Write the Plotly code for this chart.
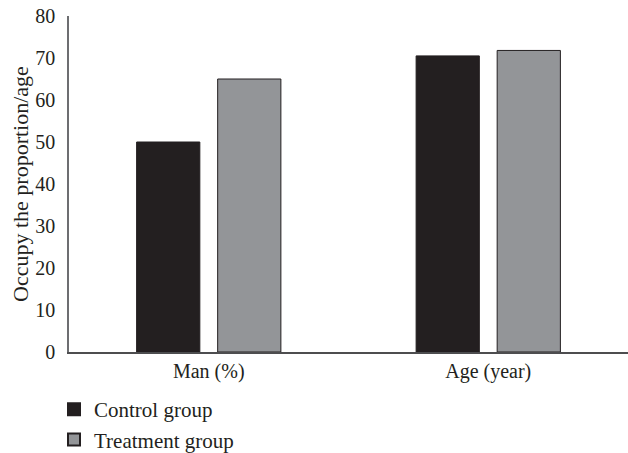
import plotly.graph_objects as go

categories = ["Man (%)", "Age (year)"]
control_values = [50.0, 70.5]
treatment_values = [65.0, 71.8]
y_ticks = [0, 10, 20, 30, 40, 50, 60, 70, 80]
y_title = "Occupy the proportion/age"

FONT = "Liberation Serif"
DARK = "#231f20"
GREY = "#939598"

fig = go.Figure()
fig.add_trace(go.Bar(
    x=categories, y=control_values, name="Control group",
    marker=dict(color=DARK, line=dict(color=DARK, width=1)),
))
fig.add_trace(go.Bar(
    x=categories, y=treatment_values, name="Treatment group",
    marker=dict(color=GREY, line=dict(color=DARK, width=1)),
))

fig.update_layout(
    width=628, height=453,
    margin=dict(l=69, r=0, t=16, b=101, autoexpand=False),
    paper_bgcolor="white", plot_bgcolor="white",
    barmode="group", bargap=0.42, bargroupgap=0.22,
    font=dict(family=FONT, size=20, color=DARK),
    showlegend=True,
    legend=dict(
        orientation="v", xref="container", yref="container",
        x=0.086, xanchor="left", y=0.141, yanchor="top",
        font=dict(family=FONT, size=21, color=DARK),
        tracegroupgap=0, itemsizing="constant",
    ),
)
# vertical axis title drawn as a rotated annotation left of the tick labels
fig.add_annotation(
    text=y_title, textangle=-90, showarrow=False,
    xref="paper", yref="paper", x=-0.0877, y=0.5,
    xanchor="center", yanchor="middle",
    font=dict(family=FONT, size=22, color=DARK),
)
fig.update_xaxes(
    showline=True, linecolor="#4d4d4f", linewidth=1.5, automargin=False,
    showgrid=False, ticks="", tickfont=dict(size=20),
)
fig.update_yaxes(
    range=[0, 80], tickvals=y_ticks, showline=True, linecolor="#6d6e71",
    linewidth=1.5, showgrid=False, zeroline=False, ticks="", automargin=False,
    ticklabelstandoff=8, tickfont=dict(size=20),
)

fig.write_html("out.html")
